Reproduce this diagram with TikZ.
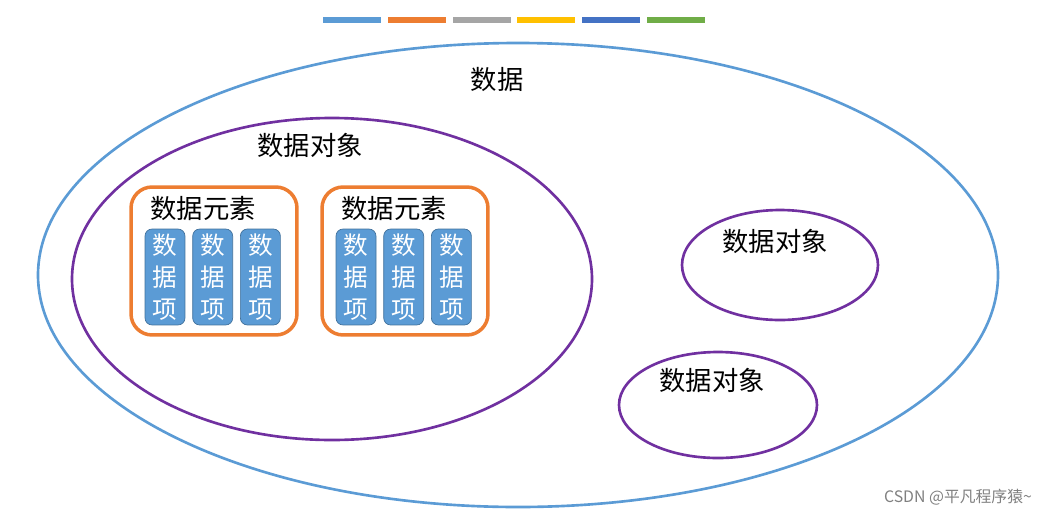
\documentclass[tikz,border=0pt]{standalone}
\usepackage{fontspec}
\setmainfont{Noto Sans CJK SC}
\usetikzlibrary{positioning}
\definecolor{barblue}{HTML}{5B9BD5}
\definecolor{barorange}{HTML}{ED7D31}
\definecolor{bargray}{HTML}{A5A5A5}
\definecolor{baryellow}{HTML}{FFC000}
\definecolor{bardark}{HTML}{4472C4}
\definecolor{bargreen}{HTML}{70AD47}
\definecolor{itemedge}{HTML}{41719C}
\definecolor{objpurple}{HTML}{7030A0}
\tikzset{
  elembox/.style={draw=barorange, line width=2pt, rounded corners=12pt, minimum width=3.32cm, minimum height=2.96cm},
  itembox/.style={draw=itemedge, fill=barblue, rounded corners=4pt, minimum width=0.8cm, minimum height=1.92cm, text=white, align=center, font=\fontsize{14}{18}\selectfont, inner sep=1pt},
  label/.style={font=\fontsize{15}{18}\selectfont}
}
\begin{document}
\begin{tikzpicture}[x=0.02cm, y=-0.02cm]
  \useasboundingbox (0,0) rectangle (1058,514);
  % colour bars at the top
  \foreach \c [count=\i from 0] in {barblue,barorange,bargray,baryellow,bardark,bargreen}
    \fill[\c] ({323+64.8*\i},17) rectangle ++(58,6);
  % data
  \draw[barblue, line width=1.5pt] (518,275) ellipse [x radius=480, y radius=232];
  \node[label] (data) at (497,80) {数据};
  % large data object
  \draw[objpurple, line width=1.5pt] (332,279) ellipse [x radius=260, y radius=161];
  \node[label] (obj1) at (310,145) {数据对象};
  % data elements
  \foreach \n/\x in {e1/214, e2/405} {
    \node[elembox] (\n) at (\x,261) {};
    \node[label] (\n t) at (\x-11,209) {数据元素};
    \node[itembox] (\n a) at (\x-49,277) {数\\据\\项};
    \node[itembox, right=0.14cm of \n a] (\n b) {数\\据\\项};
    \node[itembox, right=0.14cm of \n b] (\n c) {数\\据\\项};
  }
  % small data objects
  \draw[objpurple, line width=1.5pt] (780,265) ellipse [x radius=98, y radius=55];
  \node[label] (obj2) at (775,241) {数据对象};
  \draw[objpurple, line width=1.5pt] (718,405) ellipse [x radius=99, y radius=53];
  \node[label] (obj3) at (712,380) {数据对象};
  \node[text=gray, font=\small] (mark) at (958,497) {CSDN @平凡程序猿\textasciitilde};
\end{tikzpicture}
\end{document}
